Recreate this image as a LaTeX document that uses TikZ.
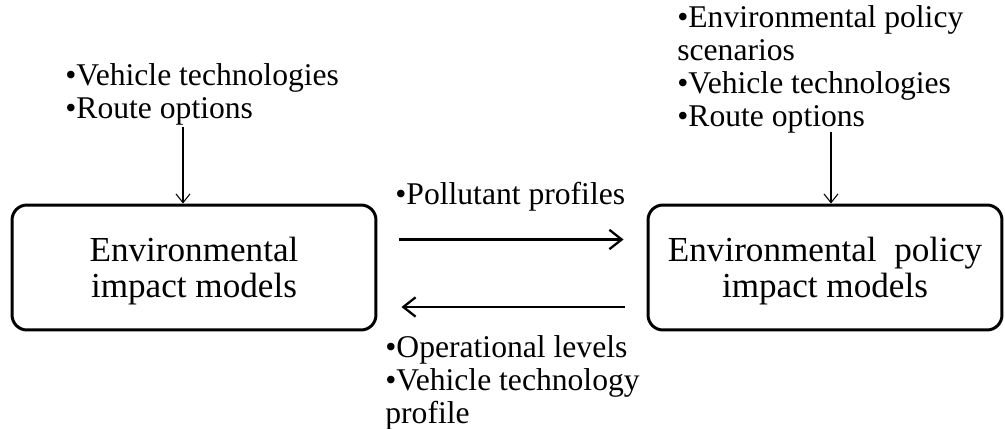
\documentclass[tikz,border=0pt]{standalone}
\usepackage{fontspec}
\setmainfont{Liberation Serif}
\usetikzlibrary{calc,arrows.meta,positioning}
\newcommand{\TopStrut}{\rule{0pt}{18.3pt}}
\tikzset{
  modelbox/.style={draw,rounded corners=8.5pt,line width=1.7pt,minimum height=2.5cm,inner sep=0pt,align=center,font=\fontsize{20}{20.5}\selectfont},
  inlist/.style={inner sep=0pt,align=left,font=\fontsize{18}{18.8}\selectfont},
  feedline/.style={line width=0.6pt,-{Straight Barb[length=5pt,width=8pt]}},
  flowline/.style={line width=1.3pt,-{Straight Barb[length=7pt,width=11pt]}}
}

\begin{document}
\begin{tikzpicture}[x=0.02cm,y=-0.02cm]
\useasboundingbox (0,0) rectangle (1005,429);
\node[modelbox,minimum width=7.28cm] (envbox) at (194,267.5) {\TopStrut Environmental\\impact models};
\node[modelbox,minimum width=7.08cm] (polbox) at (825,267.5) {\TopStrut Environmental~ policy\\impact models};
\node[inlist,anchor=north west] (leftin) at (65,63) {•Vehicle technologies\\•Route options};
\node[inlist,anchor=north west] (rightin) at (677,5.5) {•Environmental policy\\scenarios\\•Vehicle technologies\\•Route options};
\node[inlist,anchor=base west] (fwdlbl) at (395,205) {•Pollutant profiles};
\node[inlist,anchor=north west] (backlbl) at (385,335) {•Operational levels\\•Vehicle technology\\profile};
\coordinate (leftfeed) at (183,127);
\coordinate (rightfeed) at (831,132);
\draw[feedline] (leftfeed) -- (leftfeed |- envbox.north);
\draw[feedline] (rightfeed) -- (rightfeed |- polbox.north);
\draw[flowline] ([shift={(0.44cm,0.56cm)}]envbox.east) -- ([shift={(-0.46cm,0.56cm)}]polbox.west);
\draw[flowline] ([shift={(-0.44cm,-0.79cm)}]polbox.west) -- ([shift={(0.48cm,-0.79cm)}]envbox.east);
\end{tikzpicture}
\end{document}
